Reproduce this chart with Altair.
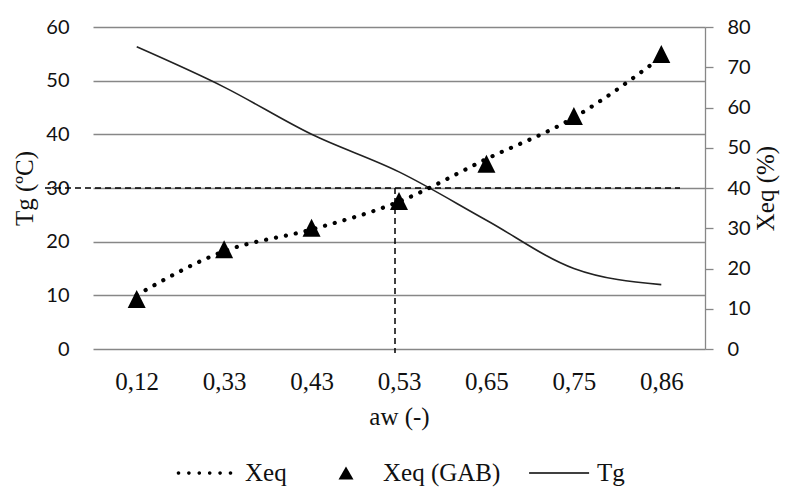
import altair as alt
import pandas as pd

# ---- data ----
AW = ["0,12", "0,33", "0,43", "0,53", "0,65", "0,75", "0,86"]
TG = [56.3, 48.8, 40.0, 33.0, 24.0, 15.0, 12.0]
XEQ = [13.4, 24.3, 29.7, 36.6, 47.2, 57.5, 72.5]
XEQ_GAB = [12.4, 24.8, 30.1, 36.8, 46.0, 57.9, 73.3]
SERIES = ["Xeq", "Xeq (GAB)", "Tg"]
TG_TICKS = [0, 10, 20, 30, 40, 50, 60]
XEQ_TICKS = [0, 10, 20, 30, 40, 50, 60, 70, 80]
REF_TG = 30
REF_AW = "0,53"

SERIF = "Liberation Serif"
SANS = "Lato"
GRID = "#878787"
TXT = "#111111"
W, H = 612, 322

# ---- legend symbol paths (unit = sqrt(symbolSize)/2 px) ----
def dots_path():
    r = 0.06
    parts = []
    for i in range(6):
        u = (-26.5 + 10.4 * i) / 30.0
        parts.append(
            f"M{u - r:.3f},0A{r},{r} 0 1,0 {u + r:.3f},0A{r},{r} 0 1,0 {u - r:.3f},0Z"
        )
    return "".join(parts)

DOT_PATH = dots_path()
TRI_PATH = "M0.1,-0.217L0.35,0.217L-0.15,0.217Z"
LINE_PATH = "M-0.93,-0.025L1.07,-0.025L1.07,0.025L-0.93,0.025Z"

main_df = pd.DataFrame({"aw": AW, "Tg": TG, "Xeq": XEQ})
gab_df = pd.DataFrame({"aw": AW, "Xeq": XEQ_GAB})
legend_df = pd.DataFrame({"series": SERIES, "Xeq": [None, None, None]})
hrule_df = pd.DataFrame({"Tg": [REF_TG]})
vrule_df = pd.DataFrame({"aw": [REF_AW], "Tg": [REF_TG]})

x_axis = alt.Axis(
    title="aw (-)", labelAngle=0, labelFont=SERIF, labelFontSize=25,
    labelColor=TXT, labelPadding=20, ticks=False, tickSize=0, domain=False,
    grid=False, titleFont=SERIF, titleFontSize=25, titleFontWeight="normal",
    titleColor=TXT, titleY=67, titleBaseline="middle",
)
X_ENC = alt.X("aw:N", sort=AW, scale=alt.Scale(type="point", padding=0.5), axis=x_axis)

left_axis = alt.Axis(
    title="Tg (ºC)", orient="left", values=TG_TICKS, grid=True, gridColor=GRID,
    gridWidth=1.3, domain=False, ticks=False, tickSize=0, labelFont=SANS,
    labelFontSize=20, labelColor=TXT, labelPadding=24, titleFont=SERIF,
    titleFontSize=25, titleFontWeight="normal", titleColor=TXT, titleAngle=-90,
    titleX=-69, titleY=H / 2, titleBaseline="middle", titleAlign="center",
)
Y_TG = alt.Y("Tg:Q", scale=alt.Scale(domain=[0, 60], nice=False, zero=False), axis=left_axis)

right_axis = alt.Axis(
    title="Xeq (%)", orient="right", values=XEQ_TICKS, grid=False, domain=True,
    domainColor=GRID, domainWidth=1.3, ticks=True, tickColor=GRID, tickWidth=1.3,
    tickSize=8, labelFont=SANS, labelFontSize=20, labelColor=TXT, labelPadding=14,
    titleFont=SERIF, titleFontSize=25, titleFontWeight="normal", titleColor=TXT,
    titleAngle=-90, titleX=60, titleY=H / 2, titleBaseline="middle", titleAlign="center",
)
Y_XEQ = alt.Y("Xeq:Q", scale=alt.Scale(domain=[0, 80], nice=False, zero=False), axis=right_axis)

tg_line = alt.Chart(main_df).mark_line(
    color="#222222", strokeWidth=1.6, interpolate="monotone"
).encode(x=X_ENC, y=Y_TG)

hrule = alt.Chart(hrule_df).mark_rule(
    color="black", strokeWidth=1.5, strokeDash=[6, 4]
).encode(y=Y_TG, x=alt.value(-48), x2=alt.value(587))

vrule = alt.Chart(vrule_df).mark_rule(
    color="black", strokeWidth=1.5, strokeDash=[6, 4], xOffset=-4
).encode(x=X_ENC, y=Y_TG, y2=alt.value(H + 4))

xeq_line = alt.Chart(main_df).mark_line(
    color="black", strokeWidth=4.2, strokeDash=[0.1, 10], strokeCap="round",
    interpolate="monotone"
).encode(x=X_ENC, y=Y_XEQ)

gab_pts = alt.Chart(gab_df).mark_point(
    shape="M0,-1L1,1L-1,1Z", size=324, filled=True, color="black", opacity=1
).encode(x=X_ENC, y=Y_XEQ)

legend_layer = alt.Chart(legend_df).mark_point(
    filled=True, color="black", opacity=1
).encode(
    y=Y_XEQ,
    shape=alt.Shape(
        "series:N",
        scale=alt.Scale(domain=SERIES, range=[DOT_PATH, TRI_PATH, LINE_PATH]),
        legend=alt.Legend(
            title=None, orient="none", legendX=82, legendY=416,
            direction="horizontal", symbolSize=3600, symbolFillColor="black",
            symbolStrokeWidth=0, symbolStrokeColor="transparent",
            labelFont=SERIF, labelFontSize=25, labelColor=TXT, labelOffset=10,
            columnPadding=26, padding=0, labelLimit=300,
        ),
    ),
)

left = alt.layer(tg_line, hrule, vrule)
right = alt.layer(xeq_line, gab_pts, legend_layer)

chart = alt.layer(left, right).resolve_scale(y="independent").properties(
    width=W, height=H,
    padding={"left": 85, "top": 19, "right": 77, "bottom": 138},
    autosize=alt.AutoSizeParams(type="none"),
    background="white",
).configure_view(stroke=None)

chart.save("out.html", embed_options={"renderer": "svg", "actions": False})
